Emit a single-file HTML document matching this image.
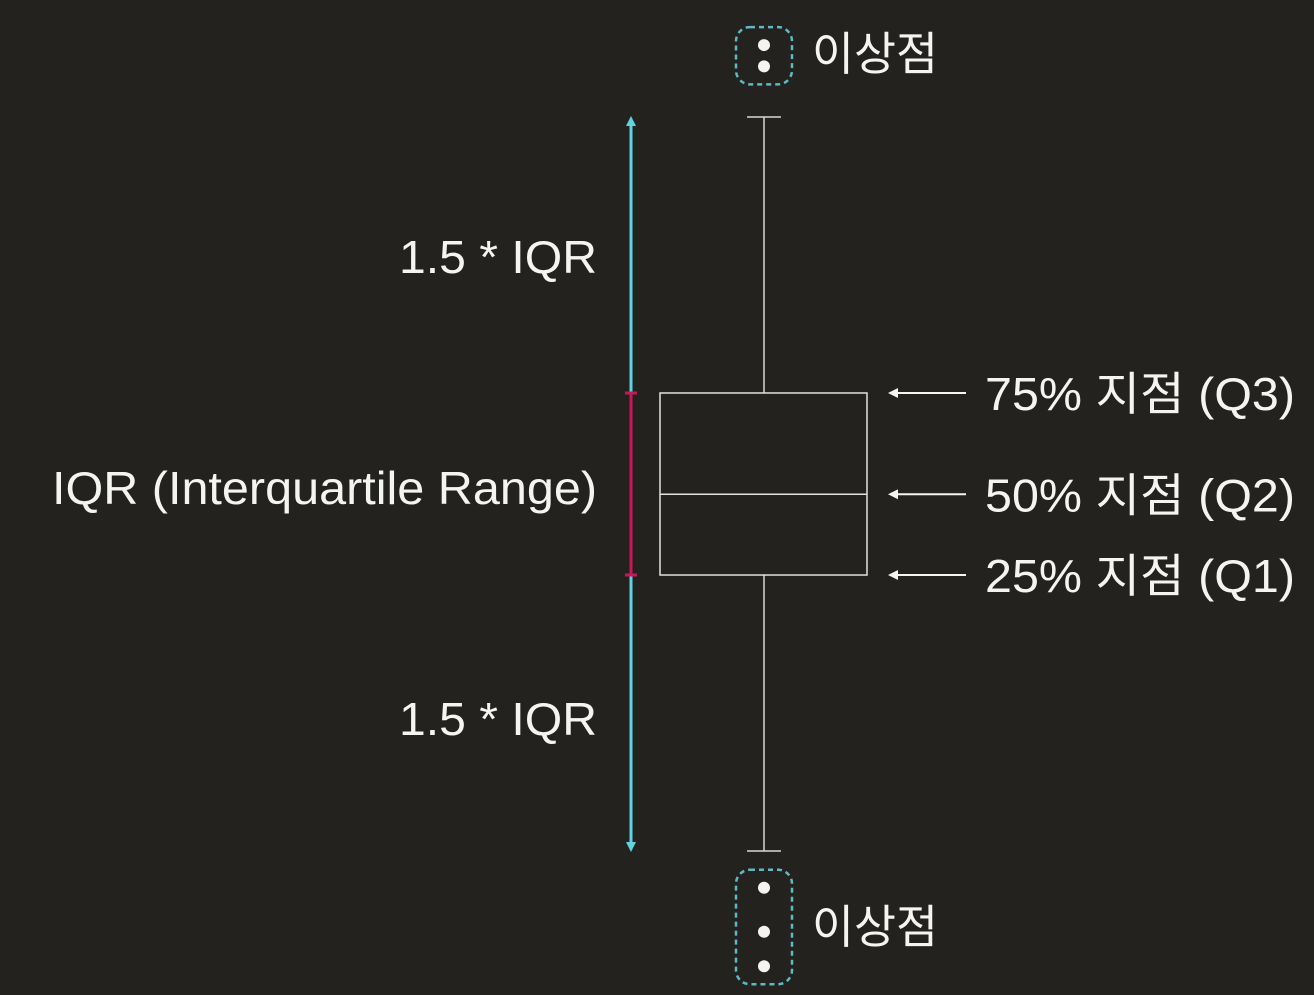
<!DOCTYPE html>
<html><head><meta charset="utf-8"><style>
html,body{margin:0;padding:0;background:#23221f;}
svg{display:block}
text{font-family:"Liberation Sans","Noto Sans CJK KR",sans-serif;fill:#f4f4f2;font-size:46px;}
</style></head><body>
<svg id="chart" width="1314" height="995" viewBox="0 0 1314 995" xmlns="http://www.w3.org/2000/svg">
<defs>
<marker id="cyanHead" viewBox="0 0 10 10" refX="5" refY="5" markerWidth="10" markerHeight="10" markerUnits="userSpaceOnUse" orient="auto-start-reverse"><path d="M0,0 L10,5 L0,10 z" fill="#5fd3e0"/></marker>
<marker id="whiteHead" viewBox="0 0 10 10" refX="2" refY="5" markerWidth="10" markerHeight="10" markerUnits="userSpaceOnUse" orient="auto"><path d="M0,0 L10,5 L0,10 z" fill="#f4f4f2"/></marker>
</defs>
<rect width="1314" height="995" fill="#23221f"/>
<g id="marks"></g>
<text x="597" y="273" text-anchor="end" textLength="198" lengthAdjust="spacingAndGlyphs">1.5 * IQR</text>
<text x="597" y="504" text-anchor="end" textLength="545" lengthAdjust="spacingAndGlyphs">IQR (Interquartile Range)</text>
<text x="597" y="735" text-anchor="end" textLength="198" lengthAdjust="spacingAndGlyphs">1.5 * IQR</text>
<text x="812" y="70" textLength="126" lengthAdjust="spacingAndGlyphs">이상점</text>
<text x="812" y="943" textLength="126" lengthAdjust="spacingAndGlyphs">이상점</text>
</svg>
<script>
const statNames = ['whiskerLow','q1','median','q3','whiskerHigh'];
const statValues = [10, 47.6, 58.6, 72.4, 110];
const quartileLabels = ['25% 지점 (Q1)','50% 지점 (Q2)','75% 지점 (Q3)'];
const upperOutliers = [119.8, 116.9];
const lowerOutliers = [5.0, -1.0, -5.7];

const yScale = v => 851 - (v - 10) * 7.34;
const cx = 764;
const NS = 'http://www.w3.org/2000/svg';
const g = document.getElementById('marks');
function mk(tag, attrs){ const e=document.createElementNS(NS,tag); for(const k in attrs) e.setAttribute(k,attrs[k]); g.appendChild(e); return e; }

const [wl,q1,md,q3,wh] = statValues.map(yScale);
let e;
e = mk('line',{x1:cx,x2:cx,y1:wh,y2:q3,stroke:'#d8d8d4','stroke-width':1.5});
 
e = mk('line',{x1:cx,x2:cx,y1:q1,y2:wl,stroke:'#d8d8d4','stroke-width':1.5});
 
e = mk('line',{x1:cx-17,x2:cx+17,y1:wh,y2:wh,stroke:'#d8d8d4','stroke-width':1.5});
 
e = mk('line',{x1:cx-17,x2:cx+17,y1:wl,y2:wl,stroke:'#d8d8d4','stroke-width':1.5});
 
e = mk('rect',{x:660,y:q3,width:207,height:q1-q3,fill:'none',stroke:'#e2e2de','stroke-width':1.5});
 
e = mk('line',{x1:660,x2:867,y1:md,y2:md,stroke:'#e2e2de','stroke-width':1.5});
 

// cyan range arrow
e = mk('line',{x1:631,x2:631,y1:wh+4,y2:wl-4,stroke:'#5fd3e0','stroke-width':3,'marker-start':'url(#cyanHead)','marker-end':'url(#cyanHead)'});
 
e = mk('line',{x1:631,x2:631,y1:q3,y2:q1,stroke:'#c8185a','stroke-width':3});
 
e = mk('line',{x1:625,x2:637,y1:q3,y2:q3,stroke:'#c8185a','stroke-width':3});
 
e = mk('line',{x1:625,x2:637,y1:q1,y2:q1,stroke:'#c8185a','stroke-width':3});
 

// quartile arrows + labels
[q1,md,q3].forEach((y,i)=>{
  const a = mk('line',{x1:966,x2:896,y1:y,y2:y,stroke:'#f4f4f2','stroke-width':2,'marker-end':'url(#whiteHead)'});
  
  
  const t = mk('text',{x:985,y:y+17,textLength:310,lengthAdjust:'spacingAndGlyphs'});
  t.textContent = quartileLabels[i];
  
  
});

// outlier groups
function outlierGroup(vals, name){
  const ys = vals.map(yScale);
  const top = Math.min(...ys)-18, bot = Math.max(...ys)+18;
  const r = mk('rect',{x:736,y:top,width:56,height:bot-top,rx:14,fill:'none',stroke:'#5fb8c4','stroke-width':2.5,'stroke-dasharray':'5 4'});
  
  
  ys.forEach(y=>{
    const c = mk('circle',{cx:cx,cy:y,r:6,fill:'#f4f4f2'});
    
    
  });
}
outlierGroup(upperOutliers,'upper-outliers');
outlierGroup(lowerOutliers,'lower-outliers');
</script>
</body></html>
